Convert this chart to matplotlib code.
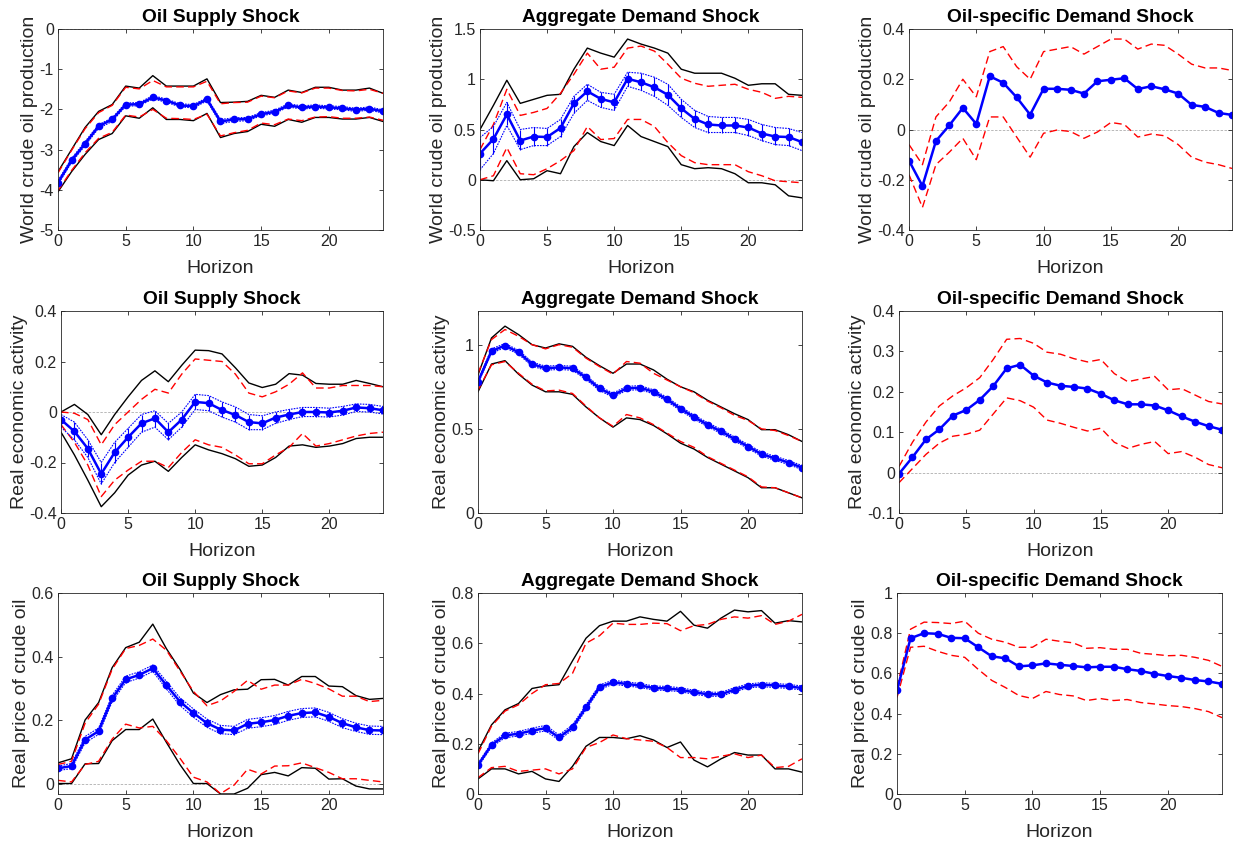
import numpy as np
import matplotlib
matplotlib.use('Agg')
import matplotlib.pyplot as plt

plt.rcParams['font.family'] = ['Liberation Sans', 'DejaVu Sans']

horizon = np.arange(25)

titles = ['Oil Supply Shock', 'Aggregate Demand Shock', 'Oil-specific Demand Shock']
ylabels = ['World crude oil production', 'Real economic activity', 'Real price of crude oil']

# ---- row 1: world crude oil production ----
prod_sup = [-3.82,-3.27,-2.85,-2.42,-2.25,-1.88,-1.87,-1.70,-1.78,-1.90,-1.92,-1.75,-2.30,-2.25,-2.24,-2.12,-2.06,-1.90,-1.95,-1.93,-1.95,-1.97,-2.01,-1.98,-2.05]
prod_sup_bu = [-3.77,-3.22,-2.80,-2.38,-2.21,-1.84,-1.83,-1.66,-1.74,-1.86,-1.88,-1.71,-2.25,-2.21,-2.20,-2.08,-2.02,-1.86,-1.91,-1.89,-1.91,-1.93,-1.97,-1.94,-2.01]
prod_sup_bl = [-3.87,-3.32,-2.90,-2.47,-2.30,-1.92,-1.91,-1.74,-1.82,-1.94,-1.96,-1.79,-2.35,-2.30,-2.28,-2.16,-2.10,-1.94,-1.99,-1.97,-1.99,-2.01,-2.05,-2.02,-2.09]
prod_sup_ru = [-3.58,-3.02,-2.48,-2.08,-1.90,-1.45,-1.49,-1.28,-1.44,-1.44,-1.44,-1.30,-1.86,-1.83,-1.82,-1.67,-1.71,-1.54,-1.59,-1.47,-1.47,-1.53,-1.54,-1.50,-1.60]
prod_sup_rl = [-4.02,-3.52,-3.08,-2.72,-2.57,-2.14,-2.19,-2.00,-2.22,-2.23,-2.25,-2.12,-2.66,-2.58,-2.52,-2.34,-2.38,-2.24,-2.28,-2.19,-2.18,-2.22,-2.22,-2.19,-2.27]
prod_sup_ku = [-3.55,-3.00,-2.45,-2.05,-1.88,-1.42,-1.47,-1.16,-1.42,-1.42,-1.42,-1.24,-1.83,-1.82,-1.80,-1.65,-1.70,-1.52,-1.58,-1.45,-1.45,-1.52,-1.52,-1.47,-1.60]
prod_sup_kl = [-4.05,-3.55,-3.12,-2.75,-2.60,-2.16,-2.22,-1.96,-2.25,-2.25,-2.28,-2.10,-2.70,-2.60,-2.55,-2.37,-2.42,-2.25,-2.32,-2.20,-2.20,-2.24,-2.24,-2.20,-2.30]

prod_agg = [0.26,0.405,0.65,0.39,0.43,0.425,0.515,0.76,0.88,0.805,0.77,1.005,0.97,0.92,0.845,0.71,0.605,0.55,0.54,0.54,0.52,0.46,0.43,0.425,0.375]
prod_agg_bu = [0.42,0.53,0.77,0.50,0.52,0.51,0.60,0.83,0.95,0.87,0.85,1.07,1.06,1.02,0.95,0.80,0.69,0.63,0.62,0.62,0.60,0.55,0.52,0.51,0.47]
prod_agg_bl = [0.10,0.26,0.54,0.30,0.34,0.34,0.43,0.66,0.79,0.72,0.69,0.93,0.89,0.83,0.74,0.62,0.52,0.47,0.47,0.47,0.44,0.39,0.35,0.34,0.29]
prod_agg_ru = [0.30,0.55,0.90,0.64,0.67,0.71,0.86,1.05,1.26,1.10,1.12,1.31,1.33,1.28,1.15,1.01,0.96,0.93,0.94,0.95,0.90,0.87,0.81,0.83,0.82]
prod_agg_rl = [0.00,0.04,0.32,0.06,0.05,0.11,0.19,0.29,0.53,0.40,0.41,0.60,0.60,0.53,0.37,0.24,0.17,0.15,0.15,0.15,0.08,0.04,-0.01,-0.02,-0.03]
prod_agg_ku = [0.50,0.74,0.99,0.76,0.80,0.84,0.85,1.10,1.31,1.26,1.22,1.40,1.35,1.31,1.26,1.10,1.06,1.06,1.06,1.01,0.94,0.955,0.955,0.85,0.84]
prod_agg_kl = [0.00,-0.01,0.19,0.00,0.01,0.09,0.06,0.33,0.47,0.38,0.34,0.54,0.43,0.38,0.33,0.15,0.11,0.12,0.11,0.06,-0.03,-0.03,-0.05,-0.16,-0.18]

prod_oil = [-0.124,-0.225,-0.046,0.017,0.086,0.022,0.212,0.186,0.128,0.059,0.162,0.162,0.158,0.143,0.192,0.198,0.204,0.161,0.172,0.160,0.143,0.098,0.090,0.066,0.058]
prod_oil_ru = [-0.06,-0.14,0.05,0.11,0.20,0.13,0.31,0.33,0.25,0.20,0.31,0.32,0.33,0.30,0.33,0.36,0.36,0.32,0.34,0.335,0.30,0.26,0.245,0.245,0.235]
prod_oil_rl = [-0.18,-0.31,-0.14,-0.09,-0.035,-0.12,0.05,0.05,-0.03,-0.11,-0.015,-0.002,-0.008,-0.035,-0.01,0.028,0.02,-0.03,-0.018,-0.025,-0.06,-0.11,-0.13,-0.14,-0.155]

# ---- row 2: real economic activity ----
rea_sup = [-0.03,-0.077,-0.145,-0.245,-0.16,-0.10,-0.045,-0.025,-0.08,-0.03,0.04,0.035,0.008,-0.012,-0.04,-0.045,-0.022,-0.01,0.0,0.0,-0.002,0.005,0.018,0.015,0.007]
rea_sup_bu = [-0.01,-0.04,-0.11,-0.20,-0.12,-0.065,-0.01,0.005,-0.045,0.0,0.07,0.065,0.04,0.02,-0.01,-0.015,0.0,0.01,0.018,0.018,0.015,0.022,0.032,0.03,0.022]
rea_sup_bl = [-0.06,-0.11,-0.18,-0.285,-0.20,-0.14,-0.08,-0.06,-0.11,-0.06,0.01,0.005,-0.02,-0.04,-0.07,-0.07,-0.045,-0.03,-0.018,-0.018,-0.02,-0.012,0.002,0.0,-0.008]
rea_sup_ru = [0.0,-0.005,-0.03,-0.13,-0.05,0.0,0.05,0.09,0.075,0.15,0.21,0.205,0.20,0.15,0.075,0.06,0.08,0.11,0.155,0.095,0.095,0.105,0.105,0.105,0.10]
rea_sup_rl = [-0.05,-0.12,-0.21,-0.335,-0.27,-0.23,-0.195,-0.195,-0.22,-0.16,-0.11,-0.13,-0.14,-0.17,-0.205,-0.205,-0.17,-0.14,-0.085,-0.135,-0.125,-0.11,-0.095,-0.085,-0.08]
rea_sup_ku = [0.0,0.03,-0.01,-0.09,-0.01,0.06,0.125,0.163,0.12,0.185,0.245,0.243,0.23,0.175,0.115,0.097,0.11,0.152,0.146,0.113,0.11,0.11,0.125,0.113,0.10]
rea_sup_kl = [-0.08,-0.17,-0.27,-0.375,-0.32,-0.25,-0.21,-0.195,-0.235,-0.18,-0.13,-0.15,-0.165,-0.185,-0.215,-0.21,-0.18,-0.135,-0.13,-0.14,-0.135,-0.125,-0.105,-0.10,-0.10]

rea_agg = [0.78,0.962,0.995,0.955,0.885,0.86,0.865,0.86,0.805,0.74,0.70,0.74,0.745,0.72,0.675,0.62,0.57,0.525,0.485,0.44,0.395,0.35,0.325,0.30,0.27]
rea_agg_bu = [0.79,0.975,1.007,0.967,0.897,0.872,0.877,0.872,0.817,0.752,0.712,0.752,0.757,0.732,0.687,0.632,0.582,0.537,0.497,0.452,0.407,0.362,0.337,0.312,0.282]
rea_agg_bl = [0.77,0.95,0.983,0.943,0.873,0.848,0.853,0.848,0.793,0.728,0.688,0.728,0.733,0.708,0.663,0.608,0.558,0.513,0.473,0.428,0.383,0.338,0.313,0.288,0.258]
rea_agg_ru = [0.83,1.03,1.09,1.05,1.0,0.975,1.0,0.985,0.92,0.87,0.825,0.90,0.89,0.83,0.79,0.75,0.715,0.665,0.625,0.58,0.55,0.50,0.49,0.46,0.425]
rea_agg_rl = [0.73,0.88,0.90,0.83,0.765,0.725,0.73,0.71,0.635,0.565,0.515,0.585,0.565,0.525,0.475,0.425,0.39,0.335,0.295,0.255,0.215,0.155,0.15,0.12,0.09]
rea_agg_ku = [0.82,1.04,1.11,1.06,1.00,0.98,1.005,0.99,0.925,0.875,0.83,0.885,0.885,0.85,0.795,0.75,0.72,0.67,0.63,0.59,0.555,0.495,0.495,0.465,0.425]
rea_agg_kl = [0.72,0.885,0.905,0.825,0.76,0.72,0.72,0.705,0.63,0.565,0.51,0.565,0.555,0.52,0.47,0.415,0.38,0.33,0.29,0.25,0.21,0.15,0.15,0.12,0.09]

rea_oil = [-0.003,0.038,0.082,0.107,0.141,0.155,0.180,0.214,0.258,0.267,0.240,0.223,0.215,0.212,0.208,0.195,0.179,0.169,0.169,0.166,0.154,0.139,0.126,0.115,0.106]
rea_oil_ru = [0.015,0.075,0.125,0.165,0.19,0.21,0.235,0.28,0.33,0.332,0.32,0.298,0.293,0.282,0.274,0.28,0.245,0.225,0.232,0.238,0.205,0.208,0.192,0.176,0.17]
rea_oil_rl = [-0.025,0.01,0.045,0.073,0.09,0.095,0.105,0.145,0.185,0.178,0.162,0.13,0.122,0.112,0.103,0.11,0.075,0.06,0.07,0.077,0.047,0.052,0.038,0.02,0.012]

# ---- row 3: real price of crude oil ----
rpo_sup = [0.048,0.055,0.138,0.165,0.268,0.328,0.342,0.363,0.310,0.258,0.222,0.190,0.170,0.167,0.188,0.193,0.200,0.213,0.222,0.224,0.210,0.190,0.177,0.168,0.167]
rpo_sup_bu = [0.055,0.063,0.148,0.175,0.278,0.338,0.352,0.373,0.322,0.270,0.235,0.203,0.183,0.180,0.202,0.207,0.214,0.227,0.236,0.238,0.224,0.204,0.190,0.181,0.180]
rpo_sup_bl = [0.041,0.047,0.128,0.155,0.258,0.318,0.332,0.353,0.298,0.246,0.209,0.177,0.157,0.154,0.174,0.179,0.186,0.199,0.208,0.210,0.196,0.176,0.164,0.155,0.154]
rpo_sup_ru = [0.06,0.07,0.19,0.25,0.36,0.425,0.435,0.455,0.42,0.355,0.29,0.245,0.26,0.29,0.325,0.297,0.31,0.31,0.328,0.315,0.298,0.275,0.275,0.258,0.262]
rpo_sup_rl = [0.01,0.005,0.06,0.07,0.14,0.187,0.175,0.18,0.135,0.08,0.02,0.005,-0.032,-0.005,0.045,0.03,0.055,0.056,0.065,0.05,0.035,0.015,0.015,0.01,0.005]
rpo_sup_ku = [0.065,0.078,0.20,0.255,0.365,0.428,0.445,0.502,0.425,0.36,0.285,0.255,0.28,0.295,0.297,0.327,0.328,0.31,0.337,0.337,0.307,0.305,0.277,0.265,0.268]
rpo_sup_kl = [0.0,0.0,0.062,0.063,0.135,0.17,0.17,0.203,0.13,0.06,0.0,0.0,-0.033,-0.033,-0.015,0.028,0.035,0.024,0.05,0.048,0.014,0.015,-0.008,-0.017,-0.017]

rpo_agg = [0.115,0.195,0.233,0.240,0.252,0.262,0.225,0.265,0.345,0.425,0.445,0.438,0.432,0.422,0.420,0.415,0.405,0.397,0.397,0.415,0.430,0.435,0.432,0.428,0.422]
rpo_agg_bu = [0.122,0.203,0.242,0.249,0.262,0.273,0.235,0.275,0.355,0.434,0.453,0.446,0.440,0.430,0.428,0.423,0.413,0.405,0.405,0.423,0.438,0.443,0.440,0.436,0.430]
rpo_agg_bl = [0.108,0.187,0.224,0.231,0.242,0.251,0.215,0.255,0.335,0.416,0.437,0.430,0.424,0.414,0.412,0.407,0.397,0.389,0.389,0.407,0.422,0.427,0.424,0.420,0.414]
rpo_agg_ru = [0.16,0.27,0.33,0.355,0.40,0.435,0.44,0.48,0.60,0.63,0.68,0.675,0.675,0.68,0.678,0.65,0.67,0.675,0.695,0.705,0.70,0.71,0.675,0.688,0.715]
rpo_agg_rl = [0.065,0.105,0.11,0.09,0.095,0.10,0.08,0.10,0.185,0.205,0.235,0.22,0.215,0.21,0.185,0.145,0.145,0.14,0.15,0.16,0.145,0.155,0.105,0.11,0.14]
rpo_agg_ku = [0.17,0.275,0.335,0.36,0.42,0.43,0.435,0.53,0.62,0.67,0.688,0.688,0.705,0.695,0.688,0.727,0.672,0.66,0.70,0.732,0.725,0.73,0.68,0.69,0.685]
rpo_agg_kl = [0.06,0.10,0.10,0.08,0.09,0.06,0.05,0.11,0.19,0.225,0.225,0.22,0.232,0.215,0.185,0.207,0.135,0.108,0.14,0.165,0.155,0.155,0.10,0.10,0.087]

rpo_oil = [0.515,0.775,0.80,0.797,0.777,0.775,0.73,0.685,0.675,0.635,0.64,0.65,0.643,0.637,0.63,0.633,0.633,0.621,0.612,0.598,0.587,0.578,0.567,0.56,0.548]
rpo_oil_ru = [0.53,0.82,0.855,0.853,0.848,0.86,0.80,0.77,0.755,0.73,0.73,0.77,0.76,0.752,0.725,0.728,0.72,0.72,0.70,0.695,0.688,0.69,0.68,0.665,0.635]
rpo_oil_rl = [0.48,0.73,0.735,0.71,0.69,0.68,0.62,0.565,0.53,0.49,0.475,0.51,0.495,0.488,0.465,0.475,0.465,0.47,0.455,0.448,0.44,0.435,0.425,0.41,0.38]

panels = [
    [dict(est=prod_sup, bu=prod_sup_bu, bl=prod_sup_bl, ru=prod_sup_ru, rl=prod_sup_rl, ku=prod_sup_ku, kl=prod_sup_kl),
     dict(est=prod_agg, bu=prod_agg_bu, bl=prod_agg_bl, ru=prod_agg_ru, rl=prod_agg_rl, ku=prod_agg_ku, kl=prod_agg_kl),
     dict(est=prod_oil, ru=prod_oil_ru, rl=prod_oil_rl)],
    [dict(est=rea_sup, bu=rea_sup_bu, bl=rea_sup_bl, ru=rea_sup_ru, rl=rea_sup_rl, ku=rea_sup_ku, kl=rea_sup_kl),
     dict(est=rea_agg, bu=rea_agg_bu, bl=rea_agg_bl, ru=rea_agg_ru, rl=rea_agg_rl, ku=rea_agg_ku, kl=rea_agg_kl),
     dict(est=rea_oil, ru=rea_oil_ru, rl=rea_oil_rl)],
    [dict(est=rpo_sup, bu=rpo_sup_bu, bl=rpo_sup_bl, ru=rpo_sup_ru, rl=rpo_sup_rl, ku=rpo_sup_ku, kl=rpo_sup_kl),
     dict(est=rpo_agg, bu=rpo_agg_bu, bl=rpo_agg_bl, ru=rpo_agg_ru, rl=rpo_agg_rl, ku=rpo_agg_ku, kl=rpo_agg_kl),
     dict(est=rpo_oil, ru=rpo_oil_ru, rl=rpo_oil_rl)],
]

ylims = [[(-5, 0), (-0.5, 1.5), (-0.4, 0.4)],
         [(-0.4, 0.4), (0, 1.2), (-0.1, 0.4)],
         [(-0.033, 0.6), (0, 0.8), (0, 1)]]
yticks = [[np.arange(-5, 0.1, 1), np.arange(-0.5, 1.6, 0.5), np.arange(-0.4, 0.41, 0.2)],
          [np.arange(-0.4, 0.41, 0.2), [0, 0.5, 1], np.arange(-0.1, 0.41, 0.1)],
          [np.arange(0, 0.61, 0.2), np.arange(0, 0.81, 0.2), np.arange(0, 1.01, 0.2)]]

# axes boxes in pixels: left, right, top, bottom
boxes = [[(58, 383, 29, 230), (480, 802, 29, 230), (909, 1232, 29, 230)],
         [(61, 383, 311, 513), (478, 802, 311, 513), (899, 1222, 311, 513)],
         [(58, 383, 593, 794), (478, 802, 593, 794), (897, 1222, 593, 794)]]

W, H = 1235, 843
fig = plt.figure(figsize=(W/100, H/100), dpi=100)

for r in range(3):
    for c in range(3):
        l, rr, t, b = boxes[r][c]
        ax = fig.add_axes([l/W, 1 - b/H, (rr-l)/W, (b-t)/H])
        p = panels[r][c]
        ax.axhline(0, color='0.72', lw=0.7, ls=(0, (2.5, 1.5)), zorder=1)
        if 'ku' in p:
            ax.plot(horizon, p['ku'], 'k-', lw=1)
            ax.plot(horizon, p['kl'], 'k-', lw=1)
        ax.plot(horizon, p['ru'], color='red', ls=(0, (5.5, 3)), lw=1)
        ax.plot(horizon, p['rl'], color='red', ls=(0, (5.5, 3)), lw=1)
        if 'bu' in p:
            ax.plot(horizon, p['bu'], color='blue', ls=(0, (1.5, 1)), lw=0.8)
            ax.plot(horizon, p['bl'], color='blue', ls=(0, (1.5, 1)), lw=0.8)
            ax.vlines(horizon, p['bl'], p['bu'], color='blue', lw=0.8)
        ax.plot(horizon, p['est'], 'b-', lw=1.8, marker='o', ms=4.5)
        ax.set_xlim(0, 24)
        ax.set_ylim(*ylims[r][c])
        ax.set_xticks([0, 5, 10, 15, 20])
        ax.set_yticks(yticks[r][c])
        ax.set_yticklabels(['%g' % round(v, 2) for v in yticks[r][c]])
        ax.tick_params(direction='in', top=True, right=True, length=3, width=0.6,
                       labelsize=11.5, colors='0.15', pad=3)
        for s in ax.spines.values():
            s.set_linewidth(0.6)
            s.set_color('0.15')
        ax.set_title(titles[c], fontsize=13.8, fontweight='bold', pad=5)
        ax.set_xlabel('Horizon', fontsize=14, color='0.15', labelpad=8)
        ax.set_ylabel(ylabels[r], fontsize=14, color='0.15', labelpad=1)

fig.savefig('out.png', dpi=100)
